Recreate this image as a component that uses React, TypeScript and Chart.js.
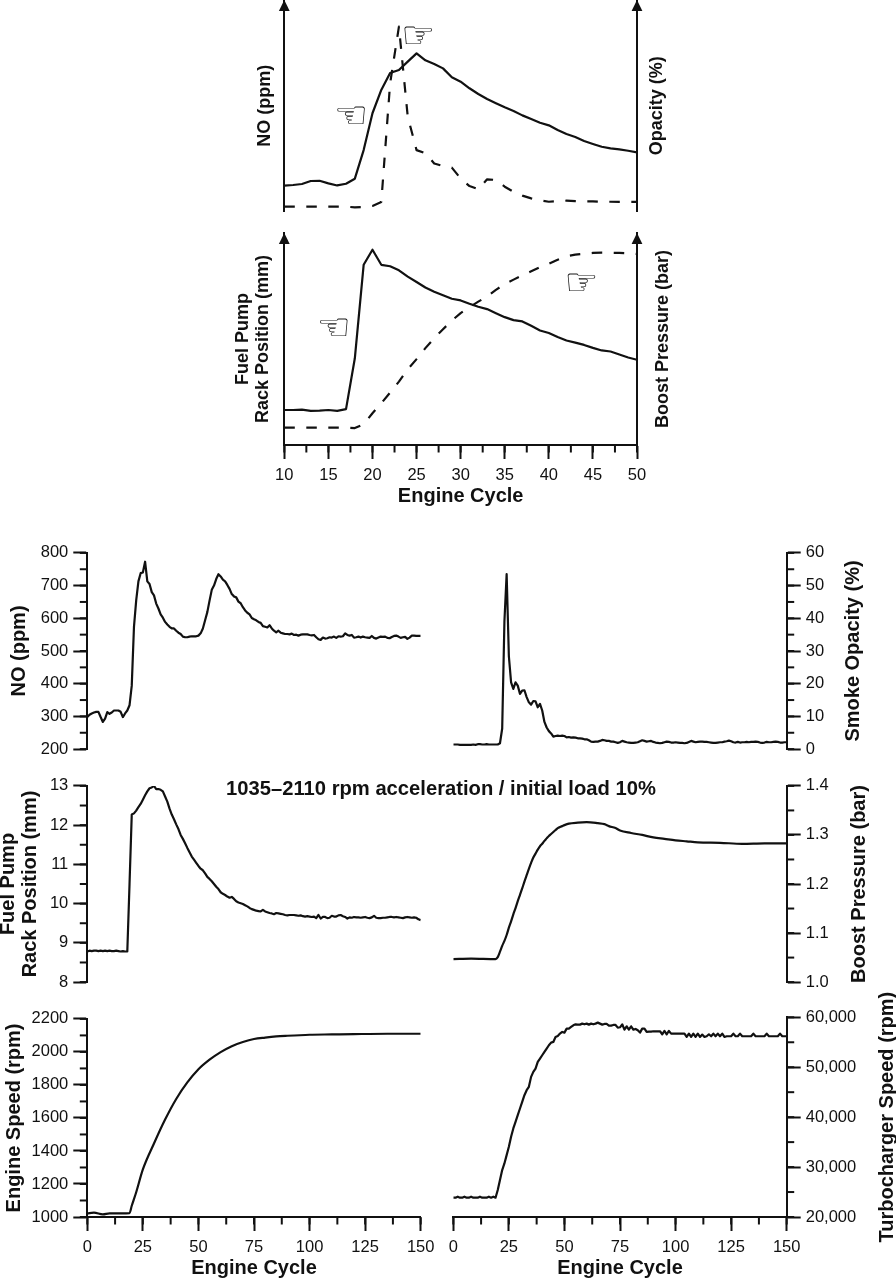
import React, { useEffect, useRef } from 'react';
import Chart from 'chart.js/auto';

const INK = '#111';
const SANS = '"Liberation Sans", Arial, sans-serif';

// x values shared by the traces sampled every cycle
const zoomCycles = Array.from({ length: 41 }, (_, i) => i + 10);
const fullCycles = Array.from({ length: 151 }, (_, i) => i);

// zoomed panels have no y ticks, values are percent of axis height
const zoomNo = [
  12.3, 12.6, 13.1, 14.5, 14.6, 13.4, 12.4, 13.2, 15.6, 29.1, 46.5, 57.5, 65.5, 66.9, 70.9, 74.8, 71.5, 69.8, 67.7, 63.5,
  61.4, 58.3, 55.6, 53.2, 51.2, 49.3, 47.6, 45.5, 43.8, 42, 40.8, 38.6, 36.7, 35.3, 33.4, 32, 30.7, 29.9, 29.4, 28.8, 28,
];
const zoomOpacity = [
  2.4, 2.4, 2.4, 2.4, 2.4, 2.4, 2.4, 2.4, 2, 2.2, 2.7, 4.6, 60.6, 87.4, 44.9, 29.1, 27.6, 22.8, 21.6, 20.8,
  15.7, 12.1, 10.6, 15.3, 15, 11.8, 9.4, 7.6, 6.3, 5.4, 4.7, 5, 5.2, 5, 4.9, 4.9, 4.7, 4.7, 4.6, 4.6, 4.6,
];
const zoomRack = [
  16.5, 16.5, 16.7, 16.1, 16.2, 16.5, 16.1, 16.9, 40.9, 85, 92.1, 85, 84.3, 82.4, 79.4, 76.9, 74.3, 72.3, 70.6, 69,
  68.2, 66.6, 65.2, 64.1, 62.2, 60.3, 58.9, 58.3, 56.2, 54, 52.8, 50.9, 49.3, 48.3, 47.2, 45.8, 44.6, 44.1, 42.7, 41.3, 40.2,
];
const zoomBoost = [
  8.2, 8.2, 8.2, 8.2, 8.2, 8.2, 8.2, 8.2, 8, 9.8, 15, 19.7, 24.7, 29.9, 35.7, 40.5, 45.7, 50.4, 54.6, 58.7,
  62.2, 65, 67.6, 70.1, 73.2, 75.9, 78, 80, 81.9, 83.9, 85.5, 87.4, 89, 89.8, 90.2, 90.6, 90.7, 90.7, 90.6, 90.4, 90.1,
];

const noPpm = [
  298, 305, 309, 312, 314, 314, 298, 283, 293, 313, 308, 312, 318, 318, 318, 314, 298, 309, 318, 334,
  394, 574, 655, 713, 738, 740, 773, 713, 705, 680, 670, 645, 630, 612, 602, 589, 581, 574, 569, 569,
  562, 556, 552, 544, 542, 542, 544, 545, 545, 545, 547, 554, 569, 594, 619, 654, 687, 700, 720, 735,
  728, 718, 713, 702, 690, 674, 667, 664, 651, 646, 634, 624, 617, 612, 601, 597, 594, 589, 586, 576,
  574, 572, 579, 569, 562, 557, 562, 556, 554, 552, 552, 551, 553, 549, 550, 547, 550, 551, 551, 551,
  549, 548, 549, 542, 536, 534, 541, 538, 539, 542, 541, 544, 540, 545, 544, 545, 554, 549, 547, 549,
  541, 542, 544, 541, 544, 542, 541, 540, 546, 540, 538, 541, 544, 543, 544, 540, 539, 543, 546, 547,
  544, 540, 542, 543, 537, 541, 547, 547, 546, 546, 546,
];
const smokeOpacity = [
  1.4, 1.4, 1.4, 1.3, 1.3, 1.3, 1.3, 1.3, 1.3, 1.4, 1.3, 1.5, 1.5, 1.4, 1.4, 1.5, 1.4, 1.4, 1.4, 1.4,
  1.4, 1.8, 6.3, 39, 53.5, 28.4, 20.4, 18.4, 20.4, 19.4, 16.9, 17.9, 18, 15.9, 14.3, 13.6, 14.7, 14.6, 12.8, 13.8,
  11.8, 8.3, 6.6, 5.5, 4.8, 3.8, 4, 4.1, 4, 4.1, 4, 3.6, 3.7, 3.5, 3.6, 3.5, 3.3, 3.3, 3.2, 3,
  3, 2.7, 2.3, 2.2, 2.3, 2.3, 2.5, 2.8, 2.7, 2.5, 2.5, 2.3, 2.3, 2.1, 1.9, 2.1, 2.5, 2.3, 2.1, 2,
  1.9, 1.9, 2, 2.1, 2.4, 2.7, 2.5, 2.3, 2.4, 2.5, 2.2, 2, 1.9, 1.8, 1.9, 2.1, 2.3, 2.2, 2, 2,
  2.1, 2, 1.9, 1.9, 1.8, 1.9, 2.2, 2.5, 2.3, 2.1, 2.2, 2.3, 2.3, 2.2, 2.2, 2.1, 2, 1.9, 1.9, 2,
  2.1, 2.1, 2.3, 2.4, 2.6, 2.4, 2.1, 2, 2.2, 2, 2.1, 2.1, 2.2, 2.1, 2.2, 2.2, 2.3, 2.2, 2, 1.9,
  2, 2.2, 2.1, 2.1, 2.2, 2.3, 2.2, 2, 2, 2.1, 2.1,
];
const rackMm = [
  8.78, 8.8, 8.79, 8.8, 8.8, 8.79, 8.8, 8.79, 8.8, 8.79, 8.8, 8.79, 8.79, 8.8, 8.79, 8.78, 8.79, 8.78, 8.78, 10.5,
  12.27, 12.3, 12.37, 12.46, 12.54, 12.65, 12.76, 12.86, 12.94, 12.96, 13, 12.92, 12.92, 12.9, 12.86, 12.73, 12.6, 12.42, 12.27, 12.15,
  12.02, 11.9, 11.75, 11.65, 11.54, 11.42, 11.31, 11.2, 11.12, 11.04, 10.96, 10.89, 10.85, 10.77, 10.68, 10.63, 10.57, 10.5, 10.43, 10.37,
  10.29, 10.25, 10.22, 10.18, 10.15, 10.17, 10.12, 10.06, 10.03, 10.01, 9.99, 9.96, 9.93, 9.89, 9.86, 9.84, 9.82, 9.81, 9.8, 9.84,
  9.8, 9.78, 9.76, 9.75, 9.73, 9.76, 9.75, 9.74, 9.73, 9.71, 9.7, 9.71, 9.71, 9.71, 9.7, 9.69, 9.7, 9.68, 9.67, 9.68,
  9.67, 9.66, 9.67, 9.63, 9.71, 9.62, 9.66, 9.66, 9.63, 9.64, 9.69, 9.67, 9.67, 9.7, 9.71, 9.68, 9.66, 9.62, 9.65, 9.64,
  9.66, 9.65, 9.65, 9.64, 9.65, 9.66, 9.64, 9.63, 9.65, 9.69, 9.64, 9.63, 9.63, 9.64, 9.64, 9.65, 9.66, 9.66, 9.65, 9.66,
  9.65, 9.64, 9.63, 9.65, 9.66, 9.65, 9.64, 9.65, 9.64, 9.6, 9.58,
];
const turboRpm = [
  23867, 23867, 24067, 23867, 23867, 24067, 23867, 23867, 24067, 23867, 23867, 23867, 24067, 23867, 23867, 23867, 24067, 23867, 24067, 23867,
  25400, 27400, 29400, 30733, 32400, 34067, 36067, 37733, 39067, 40400, 41733, 43067, 44400, 45400, 46067, 48067, 49067, 49733, 51067, 51733,
  52400, 53067, 53733, 54400, 54933, 55067, 56067, 56267, 56733, 57067, 56933, 57733, 57733, 58067, 58400, 58600, 58533, 58533, 58733, 58600,
  58733, 58533, 58733, 58600, 58733, 58933, 58733, 58533, 58667, 58667, 58333, 58333, 58467, 58467, 57933, 58000, 58600, 57533, 58200, 57533,
  58200, 57533, 57667, 57400, 56933, 57733, 57733, 57067, 57133, 57133, 57200, 57200, 57200, 57200, 56600, 57267, 56600, 57267, 56733, 56733,
  56733, 56733, 56733, 56733, 56733, 56067, 56733, 56067, 56733, 56067, 56733, 56067, 56533, 56067, 56200, 56600, 56200, 56733, 56200, 56733,
  56200, 56733, 56067, 56200, 56200, 56200, 56733, 56200, 56200, 56733, 56200, 56200, 56200, 56200, 56200, 56733, 56200, 56200, 56200, 56200,
  56200, 56733, 56200, 56200, 56200, 56200, 56200, 56733, 56200, 56200, 56200,
];

// smooth traces, read at their own cycles
const boostCycles = [0, 8, 19, 20, 21, 22, 23, 24, 25, 26, 27, 28, 29, 30, 31, 32, 33, 34, 35, 36, 37, 38, 39, 40, 41, 42, 43, 44, 45, 46, 47, 48, 49, 50, 52, 56, 60, 65, 68, 70, 73, 75, 80, 85, 90, 95, 100, 105, 110, 120, 130, 140, 150];
const boostBar = [1.047, 1.048, 1.047, 1.051, 1.062, 1.074, 1.084, 1.096, 1.111, 1.124, 1.138, 1.151, 1.165, 1.178, 1.191, 1.205, 1.218, 1.231, 1.243, 1.254, 1.262, 1.27, 1.277, 1.282, 1.288, 1.293, 1.298, 1.302, 1.306, 1.31, 1.314, 1.316, 1.318, 1.32, 1.323, 1.325, 1.326, 1.324, 1.322, 1.318, 1.314, 1.309, 1.304, 1.3, 1.295, 1.292, 1.289, 1.287, 1.285, 1.284, 1.282, 1.283, 1.283];
const speedCycles = [0, 3, 7, 10, 19, 20, 22, 25, 30, 35, 40, 45, 50, 55, 60, 65, 70, 75, 80, 85, 90, 100, 110, 120, 135, 150];
const speedRpm = [1022, 1026, 1016, 1022, 1024, 1068, 1150, 1288, 1445, 1590, 1715, 1815, 1895, 1953, 1999, 2035, 2060, 2078, 2087, 2094, 2098, 2104, 2106, 2108, 2110, 2110];

const zoomXTicks = { min: 10, max: 50, step: 5, minor: 2.5 };
const fullXTicks = { min: 0, max: 150, step: 25, minor: 12.5 };

const panels: any[] = [
  // zoomed NO / opacity
  {
    box: [220, 0, 480, 224], plot: [284.3, 637, 0, 211.7], x: { min: 10, max: 50 }, arrows: true,
    lines: [
      { xs: zoomCycles, ys: zoomNo, axis: 'y' },
      { xs: zoomCycles, ys: zoomOpacity, axis: 'yr', dashed: true },
    ],
    left: { min: 0, max: 100, title: 'NO (ppm)', titleX: 45, titleSize: 18 },
    right: { min: 0, max: 100, title: 'Opacity (%)', titleX: 437, titleSize: 18 },
    hands: [{ glyph: '\u261C', x: 17.56, y: 45.2 }, { glyph: '\u261E', x: 25.2, y: 83 }],
  },
  // zoomed rack / boost
  {
    box: [220, 225, 480, 285], plot: [284.3, 637, 233, 445], x: { ...zoomXTicks, title: 'Engine Cycle', titlePad: 2 }, arrows: true,
    lines: [
      { xs: zoomCycles, ys: zoomRack, axis: 'y' },
      { xs: zoomCycles, ys: zoomBoost, axis: 'yr', dashed: true },
    ],
    left: { min: 0, max: 100, title: ['Fuel Pump', 'Rack Position (mm)'], titleX: 23.3, titleSize: 18, lineHeight: 1.11 },
    right: { min: 0, max: 100, title: 'Boost Pressure (bar)', titleX: 443, titleSize: 18 },
    hands: [{ glyph: '\u261C', x: 15.6, y: 55.2 }, { glyph: '\u261E', x: 43.7, y: 76.4 }],
  },
  {
    box: [0, 538, 440, 226], plot: [87.3, 420.7, 551.7, 751], x: { min: 0, max: 150 },
    lines: [{ xs: fullCycles, ys: noPpm, axis: 'y' }],
    left: { min: 200, max: 800, step: 100, minor: 50, title: 'NO (ppm)', titleX: 19 },
  },
  {
    box: [440, 538, 456, 226], plot: [453.3, 786.7, 551.7, 751], x: { min: 0, max: 150 },
    lines: [{ xs: fullCycles, ys: smokeOpacity, axis: 'y' }],
    right: { min: 0, max: 60, step: 10, minor: 5, title: 'Smoke Opacity (%)', titleX: 413 },
  },
  {
    box: [0, 771, 440, 226], plot: [87.3, 420.7, 784.3, 983.7], x: { min: 0, max: 150 },
    lines: [{ xs: fullCycles, ys: rackMm, axis: 'y' }],
    left: { min: 8, max: 13, step: 1, minor: 0.5, title: ['Fuel Pump', 'Rack Position (mm)'], titleX: 8.5 },
  },
  {
    box: [440, 771, 456, 226], plot: [453.3, 786.7, 784.3, 983.7], x: { min: 0, max: 150 },
    lines: [{ xs: boostCycles, ys: boostBar, axis: 'y', smooth: true }],
    right: { min: 1, max: 1.4, step: 0.1, minor: 0.05, title: 'Boost Pressure (bar)', titleX: 419, format: (v: number) => v.toFixed(1) },
  },
  {
    box: [0, 1004, 450, 274], plot: [87.3, 420.7, 1017.3, 1217], x: { ...fullXTicks, title: 'Engine Cycle', titlePad: -2 },
    lines: [{ xs: speedCycles, ys: speedRpm, axis: 'y', smooth: true }],
    left: { min: 1000, max: 2200, step: 200, minor: 100, title: 'Engine Speed (rpm)', titleX: 14 },
  },
  {
    box: [440, 985, 456, 293], plot: [453.3, 786.7, 1017.3, 1217], x: { ...fullXTicks, title: 'Engine Cycle', titlePad: -2 },
    lines: [{ xs: fullCycles, ys: turboRpm, axis: 'y' }],
    right: { min: 20000, max: 60000, step: 10000, minor: 5000, title: 'Turbocharger Speed (rpm)', titleX: 447, format: (v: number) => v.toLocaleString('en-US') },
  },
];

const tickFont = { family: SANS, size: 16.5 };

function axisBase(cfg: any) {
  const ticked = cfg.step !== undefined;
  return {
    type: 'linear' as const,
    min: cfg.min,
    max: cfg.max,
    border: { display: true, color: INK, width: 2 },
    grid: { drawOnChartArea: false, drawTicks: ticked, tickLength: ticked ? 14 : 0, tickWidth: 2, tickColor: INK },
    ticks: {
      display: ticked,
      stepSize: cfg.step,
      autoSkip: false,
      maxRotation: 0,
      color: INK,
      font: tickFont,
      padding: 5,
      callback: (v: any) => (cfg.format ? cfg.format(Number(v)) : String(v)),
    },
  };
}

// arrowheads, minor ticks, hands and the right-hand titles (chart.js would turn those the other way)
function decorPlugin(panel: any) {
  return {
    id: 'decor',
    afterDraw(chart: any) {
      const { ctx, chartArea, scales } = chart;
      ctx.save();
      ctx.fillStyle = INK;
      ctx.strokeStyle = INK;
      ctx.lineWidth = 2;

      const minorY = (id: string, cfg: any, dir: number) => {
        if (!cfg || !cfg.minor) return;
        const scale = scales[id];
        const n = Math.round((cfg.max - cfg.min) / cfg.minor);
        for (let i = 0; i <= n; i++) {
          const y = scale.getPixelForValue(cfg.min + i * cfg.minor);
          const x = dir < 0 ? chartArea.left : chartArea.right;
          ctx.beginPath();
          ctx.moveTo(x, y);
          ctx.lineTo(x + dir * 7.5, y);
          ctx.stroke();
        }
      };
      minorY('y', panel.left, -1);
      minorY(panel.left ? 'yr' : 'y', panel.right, 1);

      if (panel.x.minor) {
        const n = Math.round((panel.x.max - panel.x.min) / panel.x.minor);
        for (let i = 0; i <= n; i++) {
          const x = scales.x.getPixelForValue(panel.x.min + i * panel.x.minor);
          ctx.beginPath();
          ctx.moveTo(x, chartArea.bottom);
          ctx.lineTo(x, chartArea.bottom + 7.5);
          ctx.stroke();
        }
      }

      if (panel.arrows) {
        [chartArea.left, chartArea.right].forEach((x: number) => {
          ctx.beginPath();
          ctx.moveTo(x, chartArea.top);
          ctx.lineTo(x - 5.4, chartArea.top + 11);
          ctx.lineTo(x + 5.4, chartArea.top + 11);
          ctx.closePath();
          ctx.fill();
        });
      }

      if (panel.right) {
        ctx.save();
        ctx.translate(panel.right.titleX, (chartArea.top + chartArea.bottom) / 2);
        ctx.rotate(-Math.PI / 2);
        ctx.font = `bold ${panel.right.titleSize || 20}px ${SANS}`;
        ctx.textAlign = 'center';
        ctx.textBaseline = 'middle';
        ctx.fillText(panel.right.title, 0, 0);
        ctx.restore();
      }

      (panel.hands || []).forEach((h: any) => {
        ctx.font = '38px "DejaVu Sans"';
        ctx.textAlign = 'center';
        ctx.textBaseline = 'middle';
        const hx = scales.x.getPixelForValue(h.x);
        const hy = scales.y.getPixelForValue(h.y) + 2.5;
        ctx.fillText(h.glyph, hx, hy);
      });
      ctx.restore();
    },
  };
}

function buildConfig(panel: any) {
  const [bx, by, bw, bh] = panel.box;
  const [pl, pr, pt, pb] = panel.plot;
  const leftW = pl - bx;
  const rightW = bx + bw - pr;
  const bottomH = by + bh - pb;
  const scales: any = {};

  scales.x = {
    type: 'linear',
    min: panel.x.min,
    max: panel.x.max,
    display: !!panel.x.title,
  };
  if (panel.x.title) {
    const base = axisBase(panel.x);
    Object.assign(scales.x, base, {
      ticks: { ...base.ticks, padding: 7 },
      afterFit: (s: any) => { s.height = bottomH; },
      title: {
        display: true,
        text: panel.x.title,
        color: INK,
        font: { family: SANS, size: 20, weight: 'bold' },
        padding: { top: 0, bottom: panel.x.titlePad },
      },
    });
  }
  if (panel.left) {
    const lh = panel.left.lineHeight || 1.12;
    const size = panel.left.titleSize || 20;
    scales.y = {
      ...axisBase(panel.left),
      position: 'left',
      afterFit: (s: any) => { s.width = leftW; },
      title: {
        display: true,
        text: panel.left.title,
        color: INK,
        font: { family: SANS, size, weight: 'bold', lineHeight: lh },
        padding: { top: panel.left.titleX - (size * lh) / 2, bottom: 0 },
      },
    };
  }
  if (panel.right) {
    scales[panel.left ? 'yr' : 'y'] = {
      ...axisBase(panel.right),
      position: 'right',
      afterFit: (s: any) => { s.width = rightW; },
    };
  }

  return {
    type: 'line' as const,
    data: {
      datasets: panel.lines.map((l: any) => ({
        data: l.xs.map((x: number, i: number) => ({ x, y: l.ys[i] })),
        yAxisID: panel.right && !panel.left ? 'y' : l.axis,
        borderColor: INK,
        borderWidth: 2.2,
        borderDash: l.dashed ? [10.5, 11.5] : [],
        borderJoinStyle: 'round',
        cubicInterpolationMode: l.smooth ? 'monotone' : 'default',
        pointRadius: 0,
        tension: 0,
      })),
    },
    options: {
      responsive: false,
      animation: false as const,
      layout: {
        padding: {
          left: panel.left ? 0 : leftW,
          right: panel.right ? 0 : rightW,
          top: pt - by,
          bottom: panel.x.title ? 0 : bottomH,
        },
      },
      plugins: { legend: { display: false }, tooltip: { enabled: false } },
      scales,
    },
    plugins: [decorPlugin(panel)],
  };
}

const Panel: React.FC<{ panel: any }> = ({ panel }) => {
  const canvasRef = useRef<HTMLCanvasElement>(null);

  useEffect(() => {
    if (!canvasRef.current) return;
    const chart = new Chart(canvasRef.current, buildConfig(panel) as any);
    return () => chart.destroy();
  }, [panel]);

  const [left, top, width, height] = panel.box;
  return <canvas ref={canvasRef} width={width} height={height} style={{ position: 'absolute', left, top, width, height }} />;
};

export default function App() {
  useEffect(() => {
    document.body.style.margin = '0';
    document.body.style.background = '#fff';
  }, []);

  return (
    <div style={{ position: 'relative', width: 896, height: 1278, overflow: 'hidden' }}>
      {panels.map((p, i) => (
        <Panel key={i} panel={p} />
      ))}
      <div
        style={{
          position: 'absolute',
          left: 0,
          width: 882,
          top: 776,
          textAlign: 'center',
          font: `bold 20.2px ${SANS}`,
          lineHeight: '24px',
          color: INK,
        }}
      >
        1035–2110 rpm acceleration / initial load 10%
      </div>
    </div>
  );
}
